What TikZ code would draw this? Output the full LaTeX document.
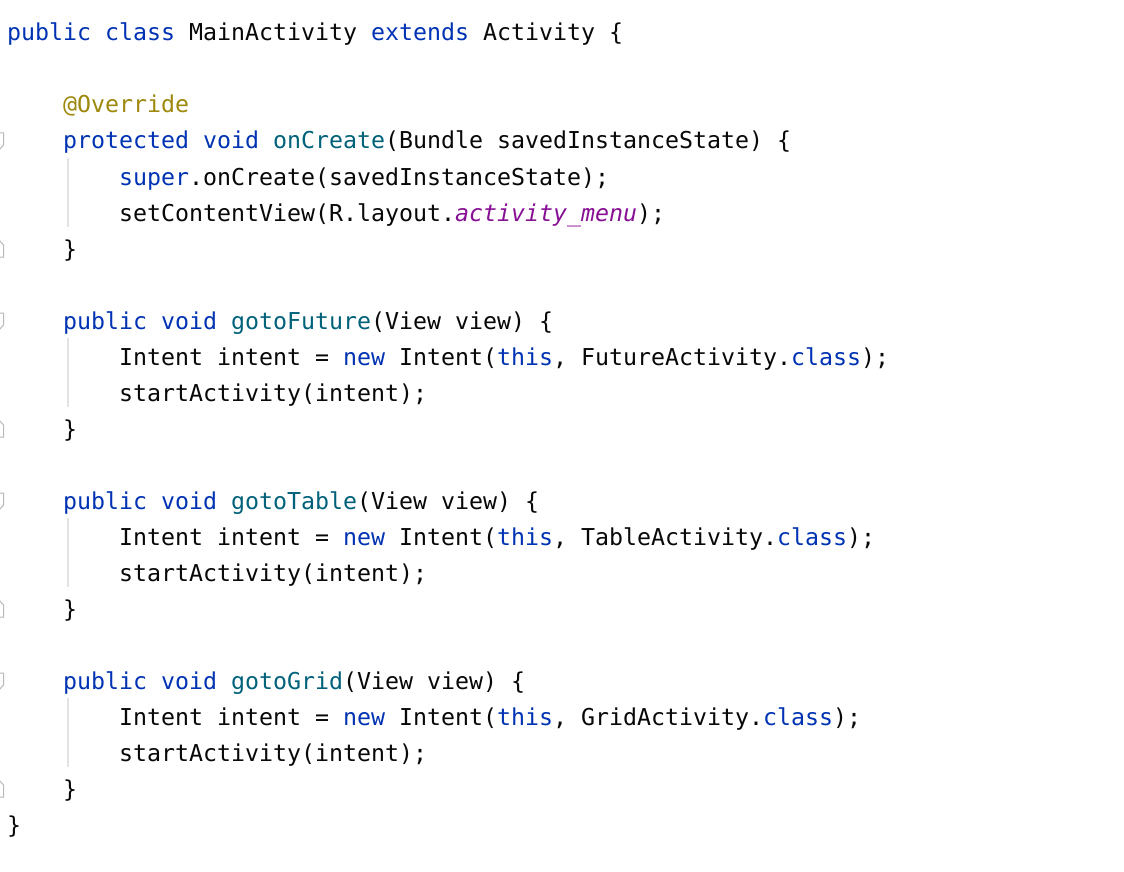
\documentclass[tikz,border=0pt]{standalone}
\usepackage{fontspec}
\usepackage{xcolor}
\newfontfamily\codefont{DejaVu Sans Mono}
\definecolor{kwblue}{HTML}{0033B3}
\definecolor{fnteal}{HTML}{00627A}
\definecolor{annogold}{HTML}{9E880D}
\definecolor{fldpurple}{HTML}{871094}
\definecolor{codeblack}{HTML}{080808}
\definecolor{guidegray}{HTML}{E3E3E3}
\definecolor{foldgray}{HTML}{B8B8B8}
\newcommand\ckw[1]{\textcolor{kwblue}{#1}}
\newcommand\cfn[1]{\textcolor{fnteal}{#1}}
\newcommand\cann[1]{\textcolor{annogold}{#1}}
\newcommand\cfld[1]{\textcolor{fldpurple}{\itshape #1}}
\tikzset{
  codeline/.style={anchor=base west, inner sep=0pt, outer sep=0pt, text=codeblack,
    font=\codefont\fontsize{23.26pt}{36pt}\selectfont},
  guideline/.style={draw=guidegray, line width=1.2pt},
  foldmark/.style={draw=foldgray, line width=1pt},
}
\begin{document}
\begin{tikzpicture}[x=1pt,y=-1pt]
\useasboundingbox[fill=white] (0,0) rectangle (1124,872);
% line n baseline: 41 + (n-1)*36 ; col c: 7 + 14c
\node[codeline] (l1) at (7,41) {\ckw{public} \ckw{class} MainActivity \ckw{extends} Activity \{};
\node[codeline] (l3) at (63,113) {\cann{@Override}};
\node[codeline] (l4) at (63,149) {\ckw{protected} \ckw{void} \cfn{onCreate}(Bundle savedInstanceState) \{};
\node[codeline] (l5) at (119,185) {\ckw{super}.onCreate(savedInstanceState);};
\node[codeline] (l6) at (119,221) {setContentView(R.layout.\cfld{activity\_menu});};
\node[codeline] (l7) at (63,257) {\}};
\node[codeline] (l9) at (63,329) {\ckw{public} \ckw{void} \cfn{gotoFuture}(View view) \{};
\node[codeline] (l10) at (119,365) {Intent intent = \ckw{new} Intent(\ckw{this}, FutureActivity.\ckw{class});};
\node[codeline] (l11) at (119,401) {startActivity(intent);};
\node[codeline] (l12) at (63,437) {\}};
\node[codeline] (l14) at (63,509) {\ckw{public} \ckw{void} \cfn{gotoTable}(View view) \{};
\node[codeline] (l15) at (119,545) {Intent intent = \ckw{new} Intent(\ckw{this}, TableActivity.\ckw{class});};
\node[codeline] (l16) at (119,581) {startActivity(intent);};
\node[codeline] (l17) at (63,617) {\}};
\node[codeline] (l19) at (63,689) {\ckw{public} \ckw{void} \cfn{gotoGrid}(View view) \{};
\node[codeline] (l20) at (119,725) {Intent intent = \ckw{new} Intent(\ckw{this}, GridActivity.\ckw{class});};
\node[codeline] (l21) at (119,761) {startActivity(intent);};
\node[codeline] (l22) at (63,797) {\}};
\node[codeline] (l23) at (7,833) {\}};
% indent guides
\foreach \a/\b in {158/227, 338/407, 518/587, 698/767}
  \draw[guideline] (68,\a) -- (68,\b);
% fold markers (start: pointed bottom, end: pointed top), clipped at the left edge
\foreach \c in {140,320,500,680}
  \draw[foldmark] (-2,\c-7) -- (3.5,\c-7) -- (3.5,\c+5) -- (-1,\c+10);
\foreach \c in {248,428,608,788}
  \draw[foldmark] (-2,\c+9) -- (3.5,\c+9) -- (3.5,\c-3) -- (-1,\c-8);
\end{tikzpicture}
\end{document}
